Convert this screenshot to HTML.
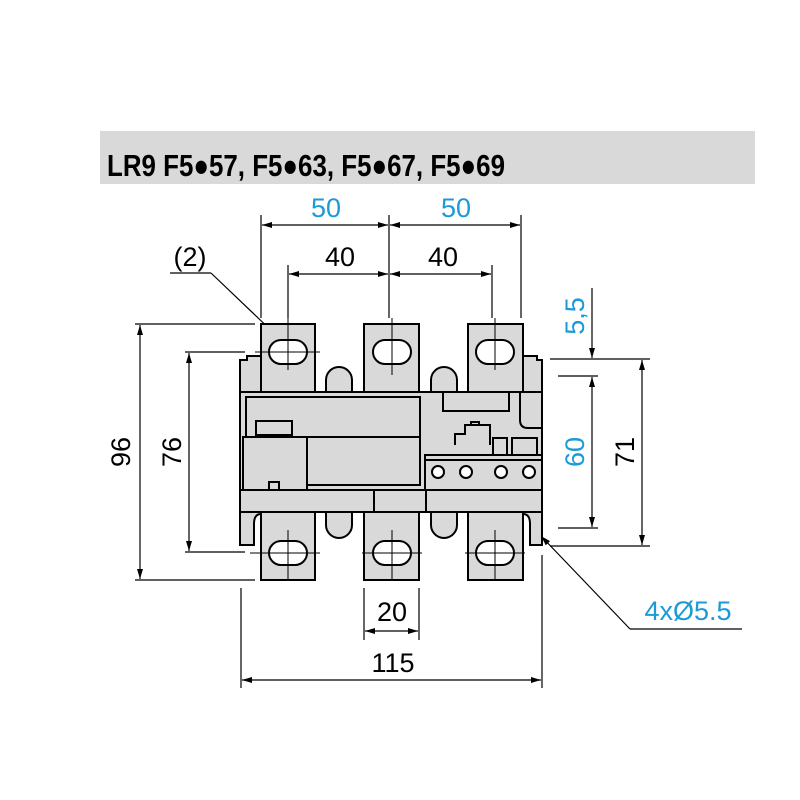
<!DOCTYPE html>
<html><head><meta charset="utf-8"><style>
html,body{margin:0;padding:0;background:#fff;}
svg{display:block;}
text{font-family:"Liberation Sans",sans-serif;}
</style></head><body>
<svg width="800" height="800" viewBox="0 0 800 800" xmlns="http://www.w3.org/2000/svg">
<defs>
<marker id="a" viewBox="0 0 10 6" refX="10" refY="3" markerWidth="10" markerHeight="6" markerUnits="userSpaceOnUse" orient="auto-start-reverse"><path d="M0,0L10,3L0,6z" fill="#000"/></marker>
</defs>
<rect x="100" y="131" width="655" height="53" fill="#d9d9d9"/>
<text x="107" y="176" font-size="31" font-weight="bold" textLength="398" lengthAdjust="spacingAndGlyphs">LR9 F5●57, F5●63, F5●67, F5●69</text>

<g stroke="#000" stroke-width="1.2" fill="none">
<line x1="261" y1="215" x2="261" y2="318"/><line x1="389" y1="215" x2="389" y2="318"/><line x1="521" y1="215" x2="521" y2="318"/>
<line x1="288" y1="265" x2="288" y2="318"/><line x1="492" y1="265" x2="492" y2="318"/>
<line x1="262" y1="225" x2="388" y2="225" marker-start="url(#a)" marker-end="url(#a)"/>
<line x1="390" y1="225" x2="520" y2="225" marker-start="url(#a)" marker-end="url(#a)"/>
<line x1="289" y1="274" x2="388" y2="274" marker-start="url(#a)" marker-end="url(#a)"/>
<line x1="390" y1="274" x2="491" y2="274" marker-start="url(#a)" marker-end="url(#a)"/>
<line x1="170" y1="273" x2="211" y2="273"/>
<line x1="211" y1="273" x2="277" y2="336" marker-end="url(#a)"/>
<line x1="135" y1="324" x2="255" y2="324"/><line x1="135" y1="580" x2="255" y2="580"/>
<line x1="185" y1="352" x2="245" y2="352"/><line x1="185" y1="552" x2="245" y2="552"/>
<line x1="140" y1="325" x2="140" y2="579" marker-start="url(#a)" marker-end="url(#a)"/>
<line x1="189" y1="353" x2="189" y2="551" marker-start="url(#a)" marker-end="url(#a)"/>
<line x1="550" y1="359" x2="650" y2="359"/><line x1="558" y1="376" x2="598" y2="376"/>
<line x1="558" y1="528" x2="598" y2="528"/><line x1="550" y1="546" x2="650" y2="546"/>
<line x1="592" y1="288" x2="592" y2="358" marker-end="url(#a)"/>
<line x1="592" y1="377" x2="592" y2="527" marker-start="url(#a)" marker-end="url(#a)"/>
<line x1="642" y1="360" x2="642" y2="545" marker-start="url(#a)" marker-end="url(#a)"/>
<line x1="541" y1="536" x2="630" y2="629" marker-start="url(#a)"/>
<line x1="630" y1="629" x2="742" y2="629"/>
<line x1="241" y1="588" x2="241" y2="688"/><line x1="542" y1="555" x2="542" y2="688"/>
<line x1="364" y1="588" x2="364" y2="640"/><line x1="419" y1="588" x2="419" y2="640"/>
<line x1="365" y1="631" x2="418" y2="631" marker-start="url(#a)" marker-end="url(#a)"/>
<line x1="242" y1="680" x2="541" y2="680" marker-start="url(#a)" marker-end="url(#a)"/>
</g>

<g stroke="#000" stroke-width="2" fill="#d9d9d9">
<path d="M240,392V360H247V356H261V392Z"/>
<path d="M523,392V356H537V360H542V392Z"/>
<path d="M240,512V545H254V524Q254,514 261,514V512Z"/>
<path d="M523,512V514Q530,514 530,524V545H542V512Z"/>
<path d="M326,392V380A13,13 0 0 1 352,380V392Z"/>
<path d="M431,392V380A13,13 0 0 1 457,380V392Z"/>
<path d="M326,512V525A13,13 0 0 0 352,525V512Z"/>
<path d="M431,512V525A13,13 0 0 0 457,525V512Z"/>
<rect x="240" y="392" width="302" height="120"/>
<rect x="246" y="397" width="174" height="40"/>
<rect x="246" y="437" width="174" height="48"/>
<rect x="243" y="437" width="64" height="53"/>
<rect x="256" y="421" width="36" height="14"/>
<rect x="269" y="482" width="10" height="13"/>
<rect x="240" y="490" width="302" height="22"/>
<line x1="374" y1="490" x2="374" y2="512"/>
<line x1="426" y1="490" x2="426" y2="512"/>
<rect x="443" y="392" width="66" height="19"/>
<path d="M520,392V420Q520,428 528,428H542"/>
<rect x="425" y="455" width="117" height="35"/>
<line x1="425" y1="460" x2="542" y2="460"/>
<rect x="471" y="422" width="8" height="12"/>
<path d="M455,445V434H465V425H490V445"/>
<rect x="493" y="438" width="14" height="17"/>
<rect x="512" y="438" width="25" height="17"/>
<rect x="261" y="324" width="54" height="68"/>
<rect x="364" y="324" width="55" height="68"/>
<rect x="468" y="324" width="55" height="68"/>
<rect x="261" y="512" width="54" height="68"/>
<rect x="364" y="512" width="55" height="68"/>
<rect x="468" y="512" width="55" height="68"/>
</g>
<g stroke="#000" stroke-width="2" fill="#fff">
<rect x="269" y="340" width="38" height="24" rx="12"/>
<rect x="373" y="340" width="38" height="24" rx="12"/>
<rect x="476" y="340" width="38" height="24" rx="12"/>
<rect x="269" y="541" width="38" height="24" rx="12"/>
<rect x="373" y="541" width="38" height="24" rx="12"/>
<rect x="476" y="541" width="38" height="24" rx="12"/>
<circle cx="438" cy="472" r="6"/><circle cx="466" cy="472" r="6"/><circle cx="501" cy="472" r="6"/><circle cx="529" cy="472" r="6"/>
</g>
<g stroke="#000" stroke-width="1">
<line x1="288" y1="318" x2="288" y2="370"/><line x1="255" y1="352" x2="320" y2="352"/>
<line x1="392" y1="318" x2="392" y2="375"/>
<line x1="495" y1="318" x2="495" y2="370"/>
<line x1="288" y1="530" x2="288" y2="580"/><line x1="250" y1="553" x2="320" y2="553"/>
<line x1="392" y1="530" x2="392" y2="580"/><line x1="362" y1="553" x2="422" y2="553"/>
<line x1="495" y1="530" x2="495" y2="580"/><line x1="465" y1="553" x2="525" y2="553"/>
</g>

<g font-size="27" text-anchor="middle">
<text x="326" y="217" fill="#1a9ad6">50</text>
<text x="456" y="217" fill="#1a9ad6">50</text>
<text x="340" y="266">40</text>
<text x="443" y="266">40</text>
<text x="190" y="266">(2)</text>
<text x="392" y="621">20</text>
<text x="393" y="672">115</text>
<text x="688" y="620" fill="#1a9ad6">4xØ5.5</text>
<text transform="translate(130,452) rotate(-90)">96</text>
<text transform="translate(181,452) rotate(-90)">76</text>
<text transform="translate(584,316) rotate(-90)" fill="#1a9ad6">5,5</text>
<text transform="translate(584,452) rotate(-90)" fill="#1a9ad6">60</text>
<text transform="translate(634,452) rotate(-90)">71</text>
</g>
</svg>
</body></html>
